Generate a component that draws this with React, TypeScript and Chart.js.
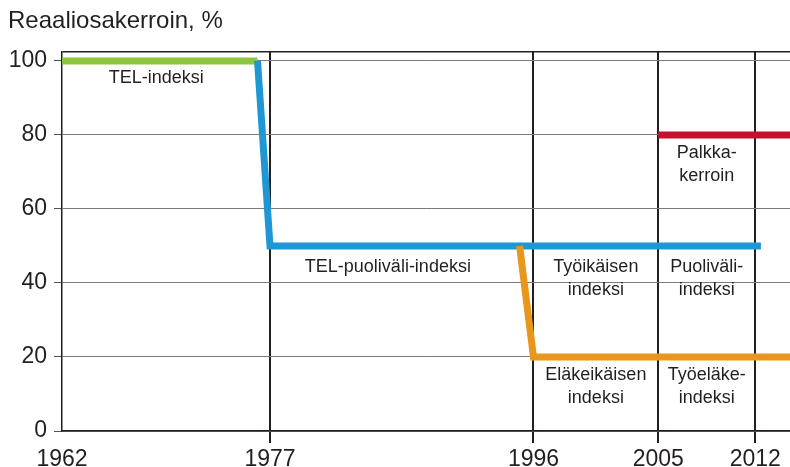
import React, { useEffect, useRef } from 'react';
import { Chart, registerables } from 'chart.js';
Chart.register(...registerables);

// Axis ticks
const xTicks = [1962, 1977, 1996, 2005, 2012];
const yTicks = [0, 20, 40, 60, 80, 100];
const xMin = 1962;
const xMax = 2014.5;
const yMax = 102.4;

// Series
const telYears = [1962, 1976.1];
const telValues = [100, 100];
const puolivaliYears = [1976.1, 1977, 2012.4];
const puolivaliValues = [100, 50, 50];
const tyoikaisenYears = [1995.0, 1996.0, 2014.5];
const tyoikaisenValues = [50, 20, 20];
const palkkaYears = [2005, 2014.5];
const palkkaValues = [80, 80];

// Labels (anchored in data coordinates)
const labelTexts = [
  ['TEL-indeksi'],
  ['TEL-puoliväli-indeksi'],
  ['Työikäisen', 'indeksi'],
  ['Puoliväli-', 'indeksi'],
  ['Palkka-', 'kerroin'],
  ['Eläkeikäisen', 'indeksi'],
  ['Työeläke-', 'indeksi'],
];
const labelYears = [1968.8, 1985.5, 2000.5, 2008.5, 2008.5, 2000.5, 2008.5];
const labelValues = [95.4, 44.3, 44.3, 44.3, 75.1, 15.1, 15.1];

const yTitle = 'Reaaliosakerroin, %';

const TEXT = '#231f20';
const FONT = "'Liberation Sans', Arial, sans-serif";

const toPts = (xs: number[], ys: number[]) => xs.map((x, i) => ({ x, y: ys[i] }));

const overlayPlugin = {
  id: 'overlay',
  afterDraw(chart: any) {
    const ctx = chart.ctx;
    const xs = chart.scales.x;
    const ys = chart.scales.y;
    ctx.save();
    ctx.fillStyle = TEXT;
    ctx.font = `24px ${FONT}`;
    ctx.textAlign = 'left';
    ctx.textBaseline = 'middle';
    ctx.fillText(yTitle, 8, 21);
    ctx.font = `18px ${FONT}`;
    ctx.textAlign = 'center';
    labelTexts.forEach((lines, i) => {
      const px = xs.getPixelForValue(labelYears[i]);
      const py = ys.getPixelForValue(labelValues[i]);
      lines.forEach((t, j) => ctx.fillText(t, px, py + j * 23));
    });
    ctx.restore();
  },
};

export default function App() {
  const ref = useRef<HTMLCanvasElement>(null);
  useEffect(() => {
    if (!ref.current) return;
    const line = (data: any, color: string, order: number) => ({
      data,
      borderColor: color,
      backgroundColor: color,
      borderWidth: 7,
      pointRadius: 0,
      tension: 0,
      fill: false,
      order,
      borderCapStyle: 'butt',
      borderJoinStyle: 'miter',
    });
    const chart = new Chart(ref.current, {
      type: 'line',
      data: {
        datasets: [
          line(toPts(telYears, telValues), '#8cc63f', 4),
          line(toPts(puolivaliYears, puolivaliValues), '#1f97d4', 3),
          line(toPts(tyoikaisenYears, tyoikaisenValues), '#e8961c', 2),
          line(toPts(palkkaYears, palkkaValues), '#c8102e', 1),
        ] as any,
      },
      options: {
        animation: false,
        responsive: false,
        maintainAspectRatio: false,
        layout: { padding: { top: 52, left: 0, right: 0, bottom: 0 } },
        plugins: { legend: { display: false }, tooltip: { enabled: false }, title: { display: false } },
        scales: {
          x: {
            type: 'linear',
            min: xMin,
            max: xMax,
            z: 1,
            afterBuildTicks: (s: any) => { s.ticks = xTicks.map((v) => ({ value: v })); },
            afterFit: (s: any) => { s.height = 36; },
            ticks: {
              autoSkip: false,
              maxRotation: 0,
              padding: 3,
              color: TEXT,
              font: { family: FONT, size: 23 },
              callback: (v: any) => String(v),
            },
            grid: {
              color: (c: any) => (c.tick && c.tick.value === xMin ? 'rgba(0,0,0,0)' : TEXT),
              tickColor: (c: any) => (c.tick && c.tick.value === xMin ? 'rgba(0,0,0,0)' : TEXT),
              lineWidth: 2,
              tickLength: 12,
            },
            border: { display: true, color: TEXT, width: 1.5 },
          },
          y: {
            type: 'linear',
            min: 0,
            max: yMax,
            afterBuildTicks: (s: any) => { s.ticks = [...yTicks, yMax].map((v) => ({ value: v })); },
            afterFit: (s: any) => { s.width = 62; },
            ticks: {
              autoSkip: false,
              padding: 7,
              color: TEXT,
              font: { family: FONT, size: 23 },
              callback: (v: any) => (v === yMax ? '' : String(v)),
            },
            grid: {
              color: (c: any) => (c.tick && c.tick.value === yMax ? TEXT : '#7a7a7a'),
              tickColor: (c: any) => (c.tick && c.tick.value === yMax ? 'rgba(0,0,0,0)' : '#555'),
              lineWidth: (c: any) => (c.tick && c.tick.value === yMax ? 1.5 : 1),
              tickLength: 8,
            },
            border: { display: true, color: TEXT, width: 1.5 },
          },
        },
      },
      plugins: [overlayPlugin],
    } as any);
    return () => chart.destroy();
  }, []);
  return (
    <div style={{ position: 'fixed', left: 0, top: 0, width: 790, height: 467, background: '#fff' }}>
      <canvas ref={ref} width={790} height={467} style={{ width: 790, height: 467, display: 'block' }} />
    </div>
  );
}
